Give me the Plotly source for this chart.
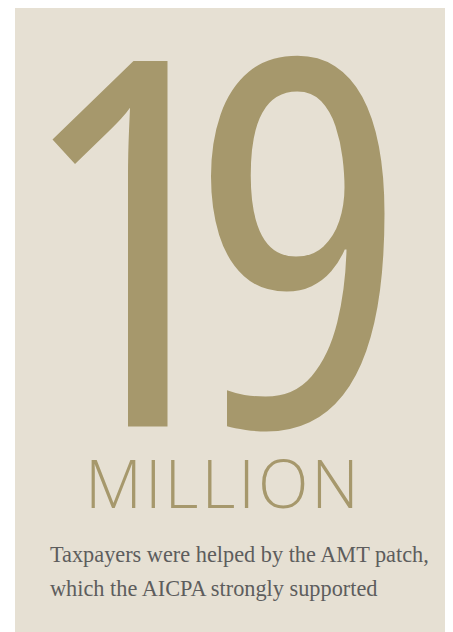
import plotly.graph_objects as go

# ---- content ----
big_number = "19"
unit_label = "MILLION"
caption_lines = [
    "Taxpayers were helped by the AMT patch,",
    "which the AICPA strongly supported",
]

# The page body has an 8px margin, so the figure is 8px smaller than the window
# and its axes are expressed in window pixels (8 .. 453, 8 .. 632).
W, H = 445, 624
panel_color = "#e6e0d3"
gold = "#a6986c"
gray = "#5d5d5d"

fig = go.Figure()
fig.update_layout(
    width=W, height=H,
    margin=dict(l=0, r=0, t=0, b=0),
    paper_bgcolor="white", plot_bgcolor="white",
    showlegend=False,
    xaxis=dict(range=[8, 453], visible=False, fixedrange=True),
    yaxis=dict(range=[632, 8], visible=False, fixedrange=True),
)
fig.add_shape(type="rect", x0=15, x1=448, y0=4, y1=640,
              fillcolor=panel_color, line_width=0, layer="below")

fig.add_annotation(
    x=206, y=228, showarrow=False, xanchor="center", yanchor="middle",
    height=420, valign="middle",
    text=f'<span style="font-stretch:75%;letter-spacing:-46px">{big_number}</span>',
    font=dict(family="Open Sans", size=512, color=gold, weight=500))

fig.add_annotation(
    x=223, y=481.5, showarrow=False, xanchor="center", yanchor="middle",
    height=56, valign="middle",
    text=f'<span style="letter-spacing:3px">{unit_label}</span>',
    font=dict(family="Open Sans", size=66, color=gold, weight=300))

for i, line in enumerate(caption_lines):
    fig.add_annotation(x=48, y=554 + 34.3 * i, text=line, showarrow=False,
                       xanchor="left", yanchor="middle",
                       font=dict(family="Liberation Serif", size=22.3, color=gray))

fig.write_html("out.html")
